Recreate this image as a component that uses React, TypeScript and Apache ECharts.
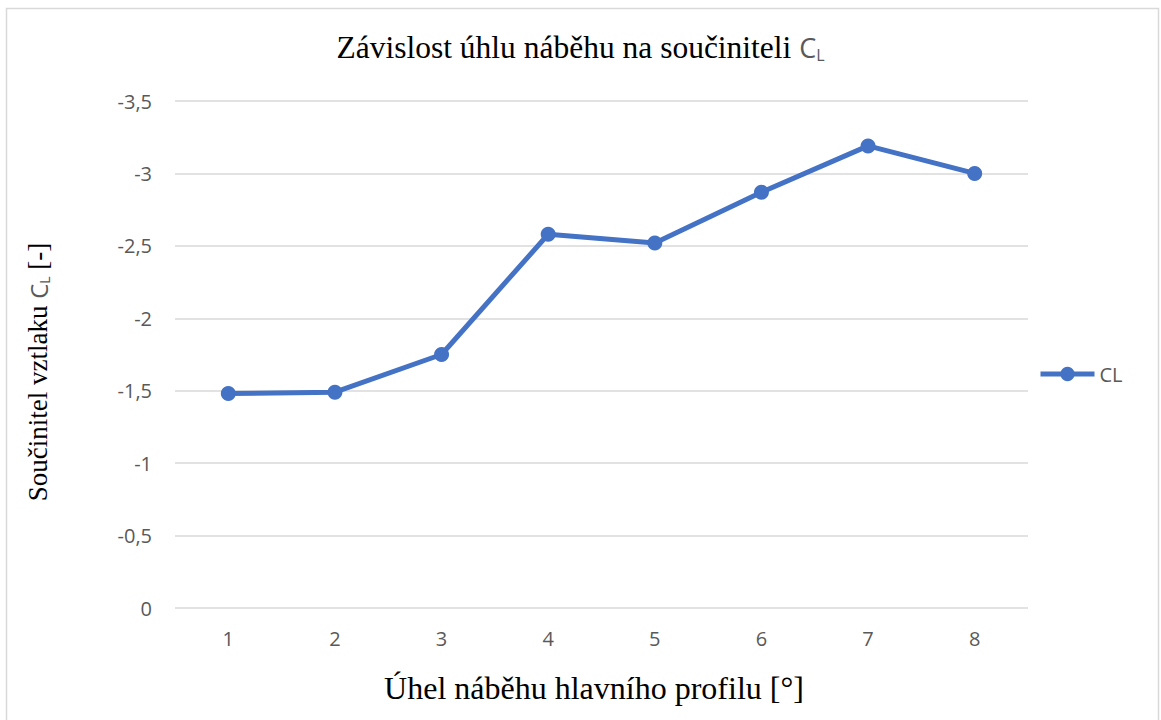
import React, { useEffect, useRef } from "react";
import * as echarts from "echarts";

const categories = ["1", "2", "3", "4", "5", "6", "7", "8"];
const clValues = [-1.48, -1.49, -1.75, -2.58, -2.52, -2.87, -3.19, -3.0];
const seriesName = "CL";
const titleMain = "Závislost úhlu náběhu na součiniteli ";
const yTitleMain = "Součinitel vztlaku ";
const xTitle = "Úhel náběhu hlavního profilu [°]";

export default function App() {
  const ref = useRef<HTMLDivElement>(null);
  useEffect(() => {
    if (!ref.current) return;
    const chart = echarts.init(ref.current, null, { renderer: "svg" });
    const serif = "'Liberation Serif', 'Times New Roman', serif";
    const sans = "'Open Sans', 'Noto Sans', sans-serif";
    chart.setOption({
      animation: false,
      backgroundColor: "#ffffff",
      title: {
        text: "{a|" + titleMain + "}{c|C}{l|L}",
        left: "center",
        top: 26,
        textStyle: {
          fontWeight: "normal",
          rich: {
            a: { fontFamily: serif, fontSize: 31.5, fontWeight: "normal", color: "#000000" },
            c: { fontFamily: sans, fontSize: 27, fontWeight: "normal", color: "#595959" },
            l: { fontFamily: sans, fontSize: 16, fontWeight: "normal", color: "#595959", verticalAlign: "bottom", padding: [12, 0, 0, 0] },
          },
        },
      },
      grid: { left: 175, right: 133, top: 101, bottom: 112, containLabel: false },
      legend: {
        orient: "vertical",
        left: 1033,
        top: 359,
        itemWidth: 54,
        itemHeight: 18,
        itemGap: 6,
        lineStyle: { width: 5 },
        textStyle: { color: "#595959", fontSize: 20, fontFamily: sans },
        data: [seriesName],
      },
      xAxis: {
        type: "category",
        data: categories,
        boundaryGap: true,
        axisLine: { show: false },
        axisTick: { show: false },
        axisLabel: { color: "#595959", fontSize: 20, fontFamily: sans, margin: 20 },
      },
      yAxis: {
        type: "value",
        min: -3.5,
        max: 0,
        interval: 0.5,
        inverse: true,
        axisLine: { show: false },
        axisTick: { show: false },
        splitLine: { lineStyle: { color: "#d9d9d9", width: 1.5 } },
        axisLabel: {
          color: "#595959",
          fontSize: 20,
          fontFamily: sans,
          margin: 23,
          formatter: (v: number) => String(Math.round(v * 10) / 10).replace(".", ","),
        },
      },
      series: [
        {
          name: seriesName,
          type: "line",
          data: clValues,
          symbol: "circle",
          symbolSize: 15,
          lineStyle: { color: "#4472C4", width: 5 },
          itemStyle: { color: "#4472C4" },
        },
      ],
      graphic: [
        {
          type: "rect",
          shape: { x: 6.5, y: 8.5, width: 1152, height: 730 },
          style: { fill: "none", stroke: "#d9d9d9", lineWidth: 1.5 },
          silent: true,
        },
        {
          type: "text",
          x: 594,
          y: 688,
          style: {
            text: xTitle,
            font: "32px " + serif,
            fill: "#000000",
            align: "center",
            verticalAlign: "middle",
          },
        },
        {
          type: "text",
          x: 38,
          y: 372,
          rotation: Math.PI / 2,
          style: {
            text: "{a|" + yTitleMain + "}{c|C}{l|L}{a| [-]}",
            align: "center",
            verticalAlign: "middle",
            rich: {
              a: { fontFamily: serif, fontSize: 27, fill: "#000000" },
              c: { fontFamily: sans, fontSize: 24, fill: "#595959" },
              l: { fontFamily: sans, fontSize: 14, fill: "#595959", verticalAlign: "bottom", padding: [10, 0, 0, 0] },
            },
          },
        },
      ],
    });
    return () => chart.dispose();
  }, []);
  return (
    <div
      ref={ref}
      style={{ position: "fixed", left: 0, top: 0, width: 1161, height: 720 }}
    />
  );
}
